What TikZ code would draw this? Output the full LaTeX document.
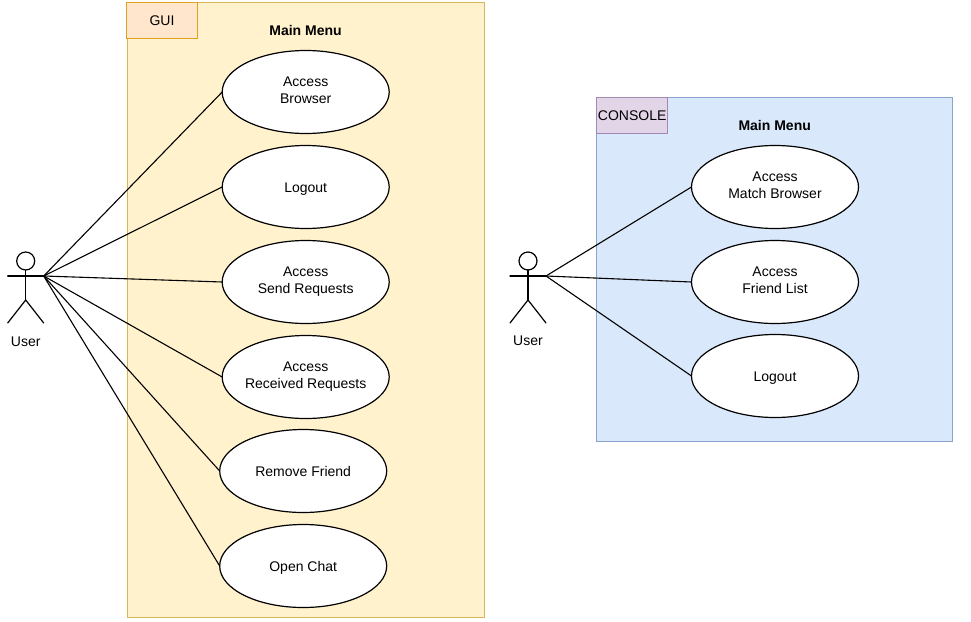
\documentclass[tikz,border=0pt]{standalone}
\usepackage{fontspec}
\setmainfont{Liberation Sans}
\usetikzlibrary{ calc, positioning, shapes.geometric }
\definecolor{guifill}{HTML}{FFF2CC}
\definecolor{guiline}{HTML}{D6B656}
\definecolor{guitabfill}{HTML}{FFE6CC}
\definecolor{guitabline}{HTML}{DFA11E}
\definecolor{confill}{HTML}{DAE8FC}
\definecolor{conline}{HTML}{8AA4CE}
\definecolor{contabfill}{HTML}{E1D5E7}
\definecolor{contabline}{HTML}{A08AB4}
\newcommand{\ucstrut}{\rule[-3pt]{0pt}{16pt}}
\tikzset{
  node distance=12pt, % gap between two use cases
  every node/.style={inner sep=0pt, outer sep=0pt, font=\fontsize{14}{17}\selectfont},
  usecase/.style={ellipse, draw, line width=1.2pt, fill=white, align=center, inner xsep=-15pt,
    minimum width=167pt, minimum height=83pt,
    execute at begin node=\ucstrut, execute at end node=\ucstrut},
  panel/.style={rectangle, draw, line width=1.2pt, anchor=north west},
  tab/.style={rectangle, draw, line width=1.2pt, anchor=north west, minimum width=71pt, minimum height=36pt},
  actorline/.style={line width=1.2pt, line cap=round},
  link/.style={line width=1.1pt},
}

\begin{document}
\begin{tikzpicture}[x=1pt,y=-1pt]
  \useasboundingbox (0,0) rectangle (971,621);

  % gui side
  \node[panel, fill=guifill, draw=guiline, minimum width=357pt, minimum height=615pt] (guibox) at (127.3,2.5) {};
  \node[tab, fill=guitabfill, draw=guitabline] (guitab) at (126.5,2.5) {GUI};
  \node (guititle) at (305.5,30) {\textbf{Main Menu}};
  \node[usecase] (browser) at (305.7,92) {Access\\Browser};
  \node[usecase, below=of browser] (logout) {Logout};
  \node[usecase, below=of logout] (send) {Access\\Send Requests};
  \node[usecase, below=of send] (recv) {Access\\Received Requests};
  \node[usecase, below=11pt of recv, xshift=-2.5pt] (remove) {Remove Friend};
  \node[usecase, below=of remove] (chat) {Open Chat};

  % console side
  \node[panel, fill=confill, draw=conline, minimum width=356pt, minimum height=344pt] (conbox) at (596.7,97.7) {};
  \node[tab, fill=contabfill, draw=contabline] (contab) at (596.7,97.7) {CONSOLE};
  \node (contitle) at (774.7,125) {\textbf{Main Menu}};
  \node[usecase] (match) at (775,187) {Access\\Match Browser};
  \node[usecase, below=of match] (friends) {Access\\Friend List};
  \node[usecase, below=11pt of friends] (conlogout) {Logout};

  % actors
  \node[circle, draw, line width=1.2pt, minimum size=18pt] (guihead) at (25.7,261) {};
  \coordinate (guihip) at (25.7,300);
  \coordinate (guihand) at (43.7,276);
  \draw[actorline] (guihead.south) -- (guihip);
  \draw[actorline] (7.7,276) -- (guihand);
  \draw[actorline] (7.7,323) -- (guihip) -- (43.7,323);
  \node (guiuser) at (25.7,341.7) {User};

  \node[circle, draw, line width=1.2pt, minimum size=18pt] (conhead) at (528,261) {};
  \coordinate (conhip) at (528,300);
  \coordinate (conhand) at (546,276);
  \draw[actorline] (conhead.south) -- (conhip);
  \draw[actorline] (510,276) -- (conhand);
  \draw[actorline] (510,323) -- (conhip) -- (546,323);
  \node (conuser) at (528,341) {User};

  \draw[link] (guihand) -- (browser.west);
  \draw[link] (guihand) -- (logout.west);
  \draw[link] (guihand) -- (send.west);
  \draw[link] (guihand) -- (recv.west);
  \draw[link] (guihand) -- (remove.west);
  \draw[link] (guihand) -- (chat.west);

  \draw[link] (conhand) -- (match.west);
  \draw[link] (conhand) -- (friends.west);
  \draw[link] (conhand) -- (conlogout.west);
\end{tikzpicture}
\end{document}
